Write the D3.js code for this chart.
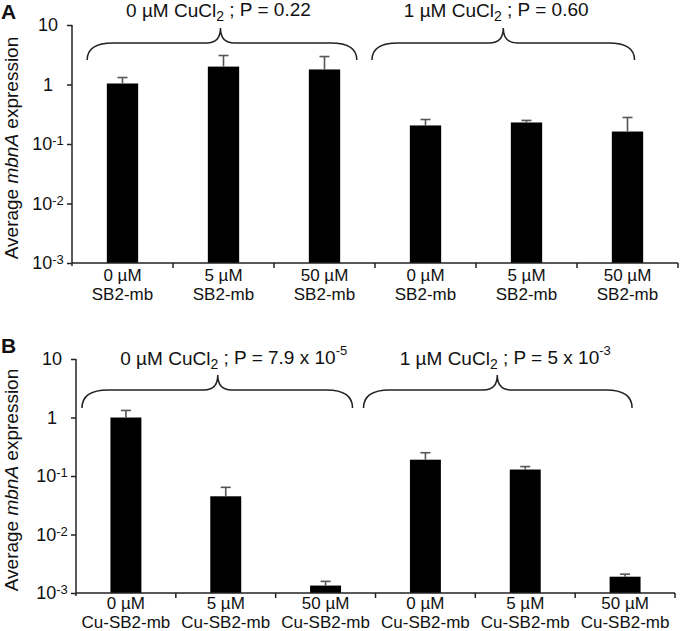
<!DOCTYPE html>
<html>
<head>
<meta charset="utf-8">
<script src="https://cdn.jsdelivr.net/npm/d3@7"></script>
<style>
  body { margin: 0; background: #fff; }
  text { font-family: "Liberation Sans", Arial, sans-serif; fill: #111; }
</style>
</head>
<body>
<svg id="chart" width="680" height="631"></svg>
<script>
// categories and tick labels
var doses = ["0 µM", "5 µM", "50 µM", "0 µM", "5 µM", "50 µM"];
var treatA = "SB2-mb";
var treatB = "Cu-SB2-mb";
var yTicks = [0.001, 0.01, 0.1, 1, 10];
var yTickBase = ["10", "10", "10", "1", "10"];
var yTickExp = ["-3", "-2", "-1", "", ""];

// series values (average expression, upper error)
var meanA = [1.04, 2.0, 1.79, 0.205, 0.23, 0.162];
var errA = [0.27, 1.07, 1.16, 0.053, 0.019, 0.117];
var meanB = [1.0, 0.045, 0.00134, 0.19, 0.129, 0.0019];
var errB = [0.32, 0.019, 0.00024, 0.06, 0.016, 0.0002];

// bracket annotations: [start, tip, end] in category units, label pieces
var bracketsA = [
  { span: [0.15, 1.47, 2.82], textAt: 1.45,
    parts: [["0 µM CuCl", ""], ["2", "sub"], [" ; P = 0.22", ""]] },
  { span: [2.97, 4.27, 5.57], textAt: 4.2,
    parts: [["1 µM CuCl", ""], ["2", "sub"], [" ; P  = 0.60", ""]] }
];
var bracketsB = [
  { span: [0.06, 1.42, 2.77], textAt: 1.58,
    parts: [["0 µM CuCl", ""], ["2", "sub"], [" ; P = 7.9 x 10", ""], ["-5", "sup"]] },
  { span: [2.88, 4.22, 5.57], textAt: 4.3,
    parts: [["1 µM CuCl", ""], ["2", "sub"], [" ; P  = 5 x 10", ""], ["-3", "sup"]] }
];

var svg = d3.select("#chart");

function brace(x0, xm, x1, yEnd, yFlat, yTip) {
  var r = 26, r2 = 14;
  return "M" + x0 + "," + yEnd +
    "Q" + x0 + "," + yFlat + " " + (x0 + r) + "," + yFlat +
    "L" + (xm - r2) + "," + yFlat +
    "Q" + xm + "," + yFlat + " " + xm + "," + yTip +
    "Q" + xm + "," + yFlat + " " + (xm + r2) + "," + yFlat +
    "L" + (x1 - r) + "," + yFlat +
    "Q" + x1 + "," + yFlat + " " + x1 + "," + yEnd;
}

function drawPanel(cfg) {
  var g = svg.append("g");

  var x = d3.scaleBand()
    .domain(d3.range(doses.length))
    .range([cfg.left, cfg.right])
    .paddingInner(0.69)
    .paddingOuter(0.345);

  // category units -> pixels, for annotations
  var xc = d3.scaleLinear().domain([0, doses.length]).range([cfg.left, cfg.right]);

  var y = d3.scaleLog().domain([0.001, 10]).range([cfg.bottom, cfg.top]);

  // bars
  g.selectAll(".bar")
    .data(cfg.mean).enter()
    .append("rect")
    .attr("class", "bar")
    .attr("x", function (d, i) { return x(i); })
    .attr("y", function (d) { return y(d); })
    .attr("width", x.bandwidth())
    .attr("height", function (d) { return cfg.bottom - y(d); })
    .attr("fill", "#000");

  // error bars (upper only)
  var eb = g.selectAll(".err")
    .data(cfg.mean).enter()
    .append("g")
    .attr("class", "err")
    .attr("stroke", "#555")
    .attr("stroke-width", 1.6);
  eb.append("line")
    .attr("x1", function (d, i) { return x(i) + x.bandwidth() / 2; })
    .attr("x2", function (d, i) { return x(i) + x.bandwidth() / 2; })
    .attr("y1", function (d) { return y(d); })
    .attr("y2", function (d, i) { return y(d + cfg.err[i]); });
  eb.append("line")
    .attr("x1", function (d, i) { return x(i) + x.bandwidth() / 2 - 5; })
    .attr("x2", function (d, i) { return x(i) + x.bandwidth() / 2 + 5; })
    .attr("y1", function (d, i) { return y(d + cfg.err[i]); })
    .attr("y2", function (d, i) { return y(d + cfg.err[i]); });

  // y axis
  var yAxis = d3.axisLeft(y).tickValues(yTicks).tickSize(5).tickFormat("");
  var ya = g.append("g")
    .attr("transform", "translate(" + cfg.left + ",0)")
    .call(yAxis);
  ya.select(".domain").attr("d", "M0," + y(10) + "V" + (cfg.bottom + 3));
  ya.selectAll("line, path").attr("stroke", "#222").attr("stroke-width", 1.5);

  var lab = g.selectAll(".ytl")
    .data(yTicks).enter()
    .append("text")
    .attr("class", "ytl")
    .attr("x", cfg.left - 24)
    .attr("y", function (d) { return y(d); })
    .attr("dy", "0.36em")
    .attr("text-anchor", "middle")
    .style("font-size", "18px");
  lab.append("tspan").text(function (d, i) { return yTickBase[i]; });
  lab.append("tspan")
    .attr("dy", "-0.4em")
    .style("font-size", "13px")
    .text(function (d, i) { return yTickExp[i]; });

  // x axis with boundary ticks
  g.append("line")
    .attr("x1", cfg.left).attr("x2", cfg.right)
    .attr("y1", cfg.bottom).attr("y2", cfg.bottom)
    .attr("stroke", "#222").attr("stroke-width", 1.5);
  g.selectAll(".xt")
    .data(d3.range(1, doses.length + 1)).enter()
    .append("line")
    .attr("x1", function (d) { return xc(d); })
    .attr("x2", function (d) { return xc(d); })
    .attr("y1", cfg.bottom).attr("y2", cfg.bottom + 5)
    .attr("stroke", "#222").attr("stroke-width", 1.5);

  // two-line category labels
  g.selectAll(".xl1")
    .data(doses).enter()
    .append("text")
    .attr("class", "xl1")
    .attr("x", function (d, i) { return x(i) + x.bandwidth() / 2; })
    .attr("y", cfg.bottom + cfg.lab1)
    .attr("text-anchor", "middle")
    .style("font-size", "17px")
    .text(function (d) { return d; });
  g.selectAll(".xl2")
    .data(doses).enter()
    .append("text")
    .attr("class", "xl2")
    .attr("x", function (d, i) { return x(i) + x.bandwidth() / 2; })
    .attr("y", cfg.bottom + cfg.lab1 + 19)
    .attr("text-anchor", "middle")
    .style("font-size", "17px")
    .text(cfg.treat);

  // y label
  var yl = g.append("text")
    .attr("transform", "translate(18," + ((cfg.top + cfg.bottom) / 2 + 4) + ") rotate(-90)")
    .attr("text-anchor", "middle")
    .style("font-size", "19px");
  yl.append("tspan").text("Average ");
  yl.append("tspan").style("font-style", "italic").text("mbnA");
  yl.append("tspan").text(" expression");

  // panel letter
  g.append("text")
    .attr("x", 1).attr("y", cfg.letterY)
    .style("font-size", "21px").style("font-weight", "bold")
    .text(cfg.letter);

  // brackets
  cfg.brackets.forEach(function (b) {
    g.append("path")
      .attr("d", brace(xc(b.span[0]), xc(b.span[1]), xc(b.span[2]),
        cfg.brEnd, cfg.brFlat, cfg.brTip))
      .attr("fill", "none")
      .attr("stroke", "#222")
      .attr("stroke-width", 1.5);
    var t = g.append("text")
      .attr("x", xc(b.textAt))
      .attr("y", cfg.textY)
      .attr("text-anchor", "middle")
      .style("font-size", "19px");
    b.parts.forEach(function (p) {
      var s = t.append("tspan").text(p[0]);
      if (p[1] === "sub") s.attr("dy", "0.25em").style("font-size", "14px");
      else if (p[1] === "sup") s.attr("dy", "-0.65em").style("font-size", "13px");
      else s.attr("dy", t.selectAll("tspan").size() > 1 ? "-0.25em" : 0);
    });
  });
}

drawPanel({
  letter: "A", letterY: 19,
  left: 72, right: 678, top: 25, bottom: 263,
  mean: meanA, err: errA, treat: treatA, lab1: 18,
  brackets: bracketsA, brEnd: 60, brFlat: 43, brTip: 28, textY: 17
});

drawPanel({
  letter: "B", letterY: 353,
  left: 76, right: 675, top: 359, bottom: 593,
  mean: meanB, err: errB, treat: treatB, lab1: 16,
  brackets: bracketsB, brEnd: 408, brFlat: 390, brTip: 375, textY: 365
});
</script>
</body>
</html>
